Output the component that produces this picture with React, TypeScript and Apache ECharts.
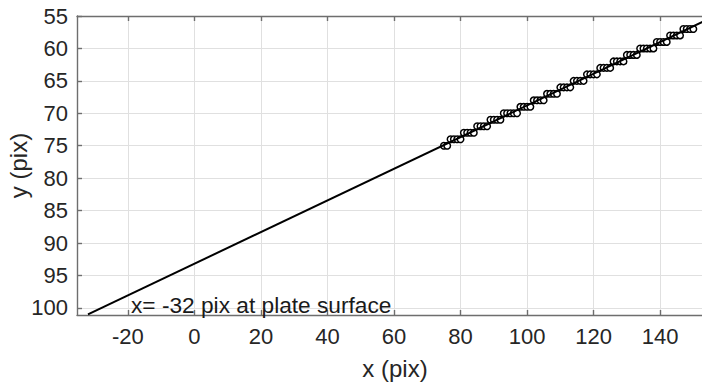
import React, { useEffect, useRef } from "react";
import * as echarts from "echarts";

// Tick values
const xTicks = [-20, 0, 20, 40, 60, 80, 100, 120, 140];
const yTicks = [55, 60, 65, 70, 75, 80, 85, 90, 95, 100];

// Fitted line endpoints
const fitX = [-32, 153];
const fitY = [101, 55.86];

// Detected edge pixels
const edgeX = [
  75, 76, 77, 78, 79, 80, 81, 82, 83, 84, 85, 86, 87, 88, 89, 90, 91, 92, 93, 94,
  95, 96, 97, 98, 99, 100, 101, 102, 103, 104, 105, 106, 107, 108, 109, 110, 111,
  112, 113, 114, 115, 116, 117, 118, 119, 120, 121, 122, 123, 124, 125, 126, 127,
  128, 129, 130, 131, 132, 133, 134, 135, 136, 137, 138, 139, 140, 141, 142, 143,
  144, 145, 146, 147, 148, 149, 150,
];
const edgeY = [
  75, 75, 74, 74, 74, 74, 73, 73, 73, 73, 72, 72, 72, 72, 71, 71, 71, 71, 70, 70,
  70, 70, 70, 69, 69, 69, 69, 68, 68, 68, 68, 67, 67, 67, 67, 66, 66, 66, 66, 65,
  65, 65, 65, 64, 64, 64, 64, 63, 63, 63, 63, 62, 62, 62, 62, 61, 61, 61, 61, 60,
  60, 60, 60, 60, 59, 59, 59, 59, 58, 58, 58, 58, 57, 57, 57, 57,
];

const annotation = "x= -32 pix at plate surface";

const FONT = "'Liberation Sans', Arial, Helvetica, sans-serif";

export default function App() {
  const ref = useRef<HTMLDivElement>(null);

  useEffect(() => {
    if (!ref.current) return;
    const chart = echarts.init(ref.current, undefined, { renderer: "svg" });
    const axisLineStyle = { color: "#6e6e6e", width: 1.4 };
    chart.setOption({
      animation: false,
      backgroundColor: "#ffffff",
      textStyle: { fontFamily: FONT },
      grid: {
        left: 77,
        top: 16,
        right: 0,
        bottom: 68,
        containLabel: false,
        outerBoundsMode: "none",
      },
      xAxis: [
        {
          type: "value",
          min: -35.3,
          max: 152.6,
          position: "bottom",
          name: "x (pix)",
          nameLocation: "middle",
          nameGap: 41,
          nameTextStyle: {
            fontSize: 24,
            color: "#262626",
            fontFamily: FONT,
            padding: [0, 0, 0, 11],
          },
          axisLine: { show: true, onZero: false, lineStyle: axisLineStyle },
          axisTick: {
            show: true,
            inside: true,
            length: 5,
            customValues: xTicks,
            lineStyle: axisLineStyle,
          },
          axisLabel: {
            customValues: xTicks,
            fontSize: 22,
            color: "#262626",
            margin: 10,
            fontFamily: FONT,
          },
          splitLine: { show: true, lineStyle: { color: "#e0e0e0", width: 1 } },
        },
        {
          type: "value",
          min: -35.3,
          max: 152.6,
          position: "top",
          axisLine: { show: true, onZero: false, lineStyle: axisLineStyle },
          axisTick: {
            show: true,
            inside: true,
            length: 5,
            customValues: xTicks,
            lineStyle: axisLineStyle,
          },
          axisLabel: { show: false },
          splitLine: { show: false },
        },
      ],
      yAxis: [
        {
          type: "value",
          inverse: true,
          min: 55,
          max: 101.1,
          name: "y (pix)",
          nameLocation: "middle",
          nameGap: 47,
          nameMoveOverlap: false,
          nameRotate: 90,
          nameTextStyle: { fontSize: 24, color: "#262626", fontFamily: FONT },
          axisLine: { show: true, onZero: false, lineStyle: axisLineStyle },
          axisTick: {
            show: true,
            inside: true,
            length: 5,
            customValues: yTicks,
            lineStyle: axisLineStyle,
          },
          axisLabel: {
            customValues: yTicks,
            fontSize: 22,
            color: "#262626",
            margin: 9,
            fontFamily: FONT,
          },
          splitLine: { show: true, lineStyle: { color: "#e0e0e0", width: 1 } },
        },
      ],
      series: [
        {
          type: "line",
          name: "edge",
          data: edgeX.map((x, i) => [x, edgeY[i]]),
          symbol: "circle",
          symbolSize: 6.5,
          showAllSymbol: true,
          lineStyle: { color: "#000", width: 2.2 },
          itemStyle: { color: "#ffffff", borderColor: "#000", borderWidth: 1.5 },
          z: 2,
        },
        {
          type: "line",
          name: "fit",
          data: fitX.map((x, i) => [x, fitY[i]]),
          symbol: "none",
          lineStyle: { color: "#000", width: 2 },
          z: 3,
        },
      ],
      graphic: [
        {
          type: "text",
          left: 131,
          top: 293,
          style: {
            text: annotation,
            fontSize: 22.7,
            fill: "#1a1a1a",
            fontFamily: FONT,
          },
          z: 10,
        },
      ],
    });
    return () => chart.dispose();
  }, []);

  return (
    <div
      ref={ref}
      style={{ position: "fixed", left: 0, top: 0, width: 702, height: 383 }}
    />
  );
}
